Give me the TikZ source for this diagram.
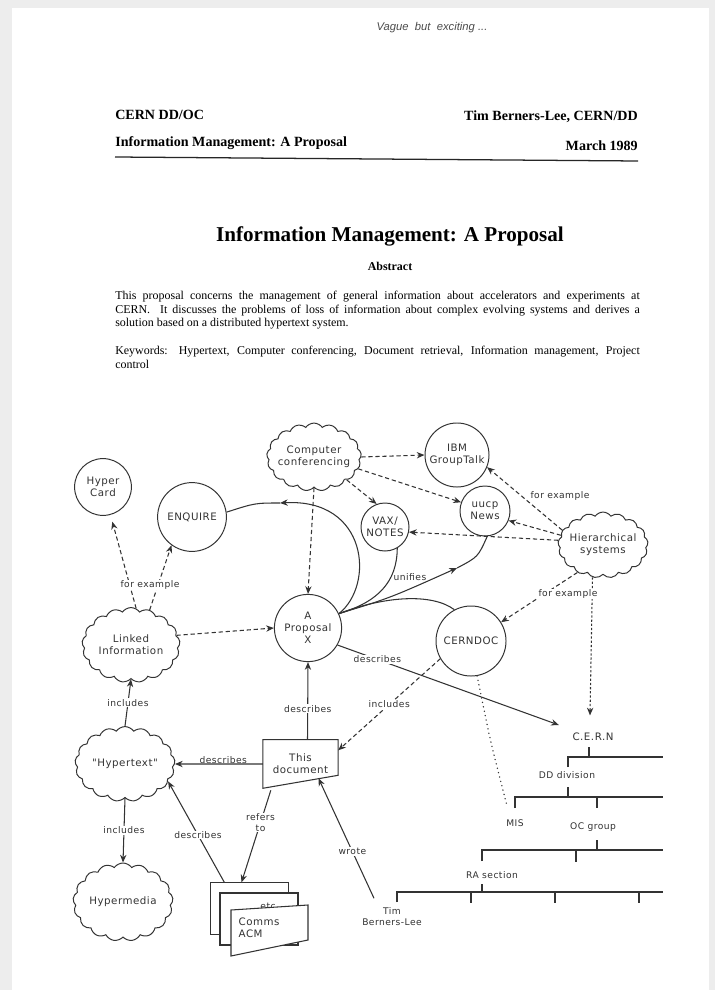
\documentclass[tikz,border=0pt]{standalone}
\usepackage{fontspec}
\setmainfont{Liberation Serif}
\newfontfamily\plotfont[LetterSpace=5]{DejaVu Sans}
\newfontfamily\handfont{Liberation Sans}
\usetikzlibrary{arrows.meta, calc, shapes.symbols}
\colorlet{scangray}{black!7}
\colorlet{ink}{black!80}

\tikzset{
  head/.style={font=\bfseries\fontsize{10}{12}\selectfont, inner sep=0pt},
  body/.style={font=\fontsize{8.5}{9.6}\selectfont, inner sep=0pt, text width=373pt, align=justify},
  lbl/.style={font=\plotfont\fontsize{6.5}{7.8}\selectfont, text=ink, align=center, inner sep=1pt},
  big/.style={lbl, font=\plotfont\fontsize{7.3}{8.6}\selectfont},
  bubble/.style={big, draw=ink, circle, line width=0.7pt, inner sep=0pt},
  puff/.style={big, draw=ink, cloud, cloud puffs=17, cloud puff arc=110, cloud ignores aspect=false, line width=0.7pt, inner sep=-3pt},
  tag/.style={lbl, fill=white, inner sep=0.6pt},
  wire/.style={draw=ink, line width=0.75pt},
  link/.style={wire, -{Stealth[length=5.5pt, width=4.5pt]}},
  dlink/.style={link, dash pattern=on 3pt off 2pt},
  page/.style={draw=ink, fill=white, line width=0.75pt},
  bar/.style={draw=ink, line width=0.8pt},
}

\begin{document}
\begin{tikzpicture}[x=0.025cm, y=-0.025cm]

    % scanned sheet
    \fill[scangray] (0, 0) rectangle (715, 990);
    \fill[white] (12, 8) rectangle (709, 990);

    % header
    \node[font=\handfont\itshape\fontsize{8}{9}\selectfont, text=black!70] (note) at (432, 28) {Vague \ but \ exciting ...};
    \node[head, anchor=west] (series) at (115, 115) {CERN DD/OC};
    \node[head, anchor=west] (subject) at (115, 143) {Information Management: A Proposal};
    \node[head, anchor=east] (author) at (638, 117) {Tim Berners-Lee, CERN/DD};
    \node[head, anchor=east] (date) at (638, 146) {March 1989};
    \draw[line width=0.9pt, black!85] (115, 157) -- (638, 161);

    \node[font=\bfseries\fontsize{15}{18}\selectfont] (title) at (390, 236) {Information Management: A Proposal};
    \node[font=\bfseries\fontsize{8.5}{10}\selectfont] (abstract) at (390, 266) {Abstract};
    \node[body, anchor=north west] (summary) at (115, 291) {This proposal concerns the management of general information about accelerators and experiments at\linebreak CERN.\ \ It discusses the problems of loss of information about complex evolving systems and derives a\linebreak solution based on a distributed hypertext system.};
    \node[body, anchor=north west] (keywords) at (115, 346) {Keywords: Hypertext, Computer conferencing, Document retrieval, Information management, Project\linebreak control};

    % the web of ideas
    \node[bubble, minimum size=1.42cm] (card) at (103, 487) {Hyper\\Card};
    \node[bubble, minimum size=1.72cm] (enquire) at (192, 517) {ENQUIRE};
    \node[puff, aspect=1.5, minimum width=2.15cm, minimum height=1.45cm] (conf) at (314, 457) {Computer\\conferencing};
    \node[bubble, minimum size=1.6cm] (ibm) at (457, 455) {IBM\\GroupTalk};
    \node[bubble, minimum size=1.25cm] (uucp) at (485, 511) {uucp\\News};
    \node[bubble, minimum size=1.2cm] (vax) at (385, 527) {VAX/\\NOTES};
    \node[puff, aspect=1.4, minimum width=2.25cm, minimum height=1.62cm] (hier) at (603, 545) {Hierarchical\\systems};
    \node[bubble, minimum size=1.68cm] (prop) at (308, 628) {A\\Proposal\\X};
    \node[bubble, minimum size=1.75cm] (cerndoc) at (471, 641) {CERNDOC};
    \node[puff, aspect=1.3, minimum width=2.45cm, minimum height=1.87cm] (linked) at (131, 645) {Linked\\Information};
    \node[puff, aspect=1.33, minimum width=2.5cm, minimum height=1.87cm] (hyper) at (125, 764) {"Hypertext"};
    \node[puff, aspect=1.25, minimum width=2.5cm, minimum height=1.95cm] (media) at (123, 902) {Hypermedia};
    \node[big, minimum width=1.87cm, minimum height=1.2cm] (doc) at (300.5, 764) {This\\document};
    \draw[wire] (doc.north west) -- (doc.north east) -- ($(doc.south east)+(0,-13)$) -- (doc.south west) -- cycle;

    % journal pile
    \node[page, minimum width=1.93cm, minimum height=1.28cm] (back) at (249.5, 908.5) {};
    \node[page, minimum width=1.95cm, minimum height=1.3cm] (middle) at (259, 919) {};
    \node[lbl, anchor=north] (etc) at (268, 901) {etc};
    \draw[page] (231, 910) -- (308, 905) -- (308, 940) -- (231, 956) -- cycle;
    \node[big, anchor=west, align=left] (comms) at (237, 928) {Comms\\ACM};

    % CERN hierarchy
    \node[big] (cern) at (593, 737) {C.E.R.N};
    \node[lbl] (dd) at (567, 775) {DD division};
    \node[lbl] (mis) at (515, 823) {MIS};
    \node[lbl] (oc) at (593, 827) {OC group};
    \node[lbl] (ra) at (492, 875) {RA section};
    \node[lbl] (tim) at (392, 917) {Tim\\Berners-Lee};

    \draw[bar] (589, 747) -- (589, 757) (568, 767) -- (568, 757) -- (663, 757);
    \draw[bar] (568, 787) -- (568, 797) (515, 808) -- (515, 797) -- (663, 797) (597, 797) -- (597, 808);
    \draw[bar] (597, 840) -- (597, 850) (482, 861) -- (482, 850) -- (663, 850) (576, 850) -- (576, 862);
    \draw[bar] (482, 884) -- (482, 892) (397, 902) -- (397, 892) -- (663, 892);
    \foreach \x in {471, 555, 639}
        \draw[bar] (\x, 892) -- (\x, 903);

    % dashed links
    \draw[dlink] (conf.0) -- (ibm.180);
    \draw[dlink] (conf.-15) -- (uucp.160);
    \draw[dlink] (conf.-35) -- (vax.110);
    \draw[dlink] (conf.south) -- (prop.north);
    \draw[dlink] (hier.160) -- (ibm.-22);
    \draw[dlink] (hier.167) -- (uucp.-22);
    \draw[dlink] (hier.174) -- (vax.-12);
    \draw[dlink] (hier.227) -- (cerndoc.32);
    \draw[dlink, dash pattern=on 1.6pt off 1.4pt] (hier.252) -- ($(cern.north)+(-3,-16)$);
    \node[lbl] (ex1) at (560, 496) {for example};
    \node[tag] (ex2) at (568, 594) {for example};
    \draw[dlink, shorten >=5pt] (linked.82) -- (card.-75);
    \draw[dlink] (linked.62) -- (enquire.234);
    \node[tag] (ex3) at (150, 585) {for example};
    \draw[dlink] (linked.12) -- (prop.180);
    \draw[dlink] (cerndoc.210) -- (doc.20) node[tag, pos=0.5] {includes};
    \draw[wire, dash pattern=on 0pt off 3.2pt, line cap=round, line width=1.1pt] (cerndoc.-80) .. controls (490, 740) .. ($(mis.north)+(-8,-12)$);

    % solid links
    \draw[link] (hyper.north) -- (linked.south) node[tag, midway] {includes};
    \draw[link] (hyper.south) -- (media.north) node[tag, midway] {includes};
    \draw[link] (doc.west) -- (hyper.east) node[lbl, pos=0.45, above=-1pt] {describes};
    \draw[link] ($(doc.north)+(7,0)$) -- (prop.south) node[tag, pos=0.4] {describes};
    \draw[link] (prop.-30) -- ($(cern.west)+(-12,-12)$) node[tag, pos=0.18] {describes};
    \draw[link] ($(doc.south west)+(8,2)$) -- ($(back.north)+(-8,0)$) node[tag, pos=0.35] {refers\\to};
    \draw[link] ($(back.north west)+(14,0)$) -- (hyper.-22) node[tag, pos=0.47] {describes};
    \draw[link] ($(tim.north)+(-18,-8)$) -- ($(doc.south)+(18,-10)$) node[tag, pos=0.39] {wrote};

    % unifies
    \coordinate (enqtip) at (280, 503);
    \coordinate (uucptip) at (457, 568);
    \draw[link] (prop.25) .. controls (375, 585) and (368, 498) .. (enqtip);
    \draw[wire] (enqtip) .. controls (255, 503) .. (enquire.8);
    \draw[wire] (prop.25) .. controls (378, 602) and (397, 582) .. (vax.-60);
    \draw[link] (prop.25) .. controls (390, 598) .. (uucptip);
    \draw[wire] (uucptip) .. controls (478, 557) .. (uucp.-85);
    \draw[wire] (prop.25) .. controls (385, 596) and (432, 593) .. (cerndoc.118);
    \node[lbl] (unify) at (410, 577) {unifies};

\end{tikzpicture}
\end{document}
